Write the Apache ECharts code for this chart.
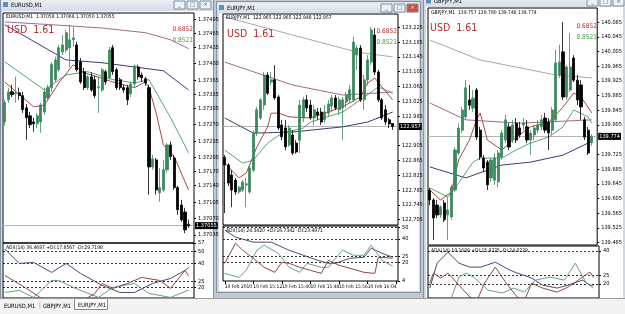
<!DOCTYPE html>
<html><head><meta charset="utf-8">
<script src="https://cdn.jsdelivr.net/npm/echarts@6/dist/echarts.min.js"></script>
<style>html,body{margin:0;padding:0;background:#c8ccd4;}#c{width:625px;height:314px;}</style>
</head><body><div id="c"></div>
<script>
// ---------------- DATA ----------------
// candles: [open, close, low, high]
const euCandles = [
[1.37276,1.37317,1.37268,1.37323],[1.37323,1.37340,1.37317,1.37349],[1.37340,1.37334,1.37329,1.37355],[1.37336,1.37338,1.37317,1.37372],
[1.37338,1.37332,1.37323,1.37349],[1.37332,1.37302,1.37295,1.37340],[1.37306,1.37285,1.37238,1.37314],[1.37289,1.37270,1.37263,1.37297],
[1.37276,1.37272,1.37255,1.37285],[1.37272,1.37289,1.37263,1.37295],[1.37276,1.37312,1.37253,1.37317],[1.37297,1.37340,1.37291,1.37349],
[1.37327,1.37349,1.37323,1.37355],[1.37349,1.37398,1.37340,1.37404],[1.37366,1.37408,1.37361,1.37415],[1.37387,1.37434,1.37383,1.37440],
[1.37425,1.37440,1.37419,1.37461],[1.37429,1.37466,1.37423,1.37472],[1.37434,1.37451,1.37393,1.37483],[1.37451,1.37455,1.37436,1.37478],
[1.37440,1.37387,1.37383,1.37447],[1.37404,1.37361,1.37357,1.37412],[1.37383,1.37349,1.37344,1.37391],[1.37349,1.37372,1.37344,1.37376],
[1.37372,1.37344,1.37340,1.37381],[1.37366,1.37332,1.37327,1.37374],[1.37349,1.37351,1.37295,1.37372],[1.37344,1.37387,1.37340,1.37391],
[1.37383,1.37361,1.37355,1.37387],[1.37370,1.37429,1.37366,1.37436],[1.37434,1.37383,1.37376,1.37440],[1.37387,1.37349,1.37344,1.37391],
[1.37366,1.37349,1.37344,1.37370],[1.37349,1.37344,1.37338,1.37355],[1.37349,1.37323,1.37312,1.37355],[1.37336,1.37357,1.37329,1.37361],
[1.37357,1.37395,1.37349,1.37398],[1.37393,1.37372,1.37366,1.37398],[1.37376,1.37370,1.37361,1.37381],[1.37368,1.37359,1.37353,1.37372],
[1.37349,1.37180,1.37121,1.37355],[1.37180,1.37197,1.37174,1.37206],[1.37195,1.37131,1.37121,1.37199],[1.37125,1.37136,1.37106,1.37178],
[1.37131,1.37174,1.37127,1.37195],[1.37174,1.37227,1.37168,1.37231],[1.37227,1.37202,1.37195,1.37234],[1.37199,1.37136,1.37131,1.37206],
[1.37136,1.37089,1.37078,1.37140],[1.37099,1.37067,1.37063,1.37110],[1.37084,1.37046,1.37039,1.37093],[1.37058,1.37055,1.37050,1.37068]
];
const euTicks = [1.37035,1.37070,1.37105,1.37140,1.37170,1.37200,1.37235,1.37270,1.37305,1.37335,1.37365,1.37400,1.37435,1.37465,1.37495];
const euMaMauve = [[0,1.37489],[13,1.37483],[27,1.37476],[39,1.37466],[46,1.37451],[51,1.37432]];
const euMaNavy  = [[0,1.37483],[17,1.37408],[27,1.37402],[36,1.37393],[44,1.37385],[51,1.37344]];
const euMaTeal  = [[0,1.37404],[11,1.37344],[17,1.37376],[23,1.37383],[30,1.37366],[36,1.37359],[40,1.37366],[46,1.37285],[51,1.37210]];
const euMaRed   = [[0,1.37361],[8,1.37308],[11,1.37312],[15,1.37359],[19,1.37398],[22,1.37381],[30,1.37361],[36,1.37349],[39,1.37361],[40,1.37349],[42,1.37295],[44,1.37227],[47,1.37202],[51,1.37131]];
const euAdx     = [[0,52],[4,40],[8,40.8],[13,32.5],[17,40],[21,31.7],[27,21.7],[32,15.8],[36,15.8],[41,23.3],[46,27.5],[50,34.2],[51,36.47]];
const euMinusDI = [[0,30],[6,19.2],[11,9.2],[16,6],[21,8],[25,15],[27,23.3],[30,19.2],[34,23.3],[38,28.3],[43,25.8],[46,19.2],[50,34.2],[51,29.72]];
const euPlusDI  = [[0,15.8],[4,17.5],[8,11.7],[13,25.8],[15,25.8],[19,20],[26,11.7],[30,20],[36,23.3],[40,15],[46,11.7],[51,17.86]];

const ejCandles = [
[122.874,122.853,122.723,122.880],[122.853,122.804,122.796,122.858],[122.826,122.785,122.739,122.839],[122.812,122.780,122.772,122.818],
[122.780,122.793,122.775,122.796],[122.785,122.807,122.780,122.812],[122.799,122.802,122.739,122.818],[122.780,122.845,122.775,122.853],
[122.839,122.939,122.834,122.947],[122.939,123.002,122.931,123.010],[122.980,123.029,122.975,123.034],[123.015,123.096,123.002,123.104],
[123.096,123.047,123.042,123.104],[123.077,123.083,123.069,123.104],[123.083,123.034,123.029,123.123],[123.037,122.953,122.947,123.042],
[122.961,122.929,122.920,122.975],[122.953,122.902,122.893,122.975],[122.907,122.953,122.902,122.961],[122.934,122.885,122.880,122.947],
[122.912,122.888,122.883,122.920],[122.920,123.015,122.885,123.029],[122.980,123.029,122.969,123.037],[123.029,123.007,122.996,123.042],
[123.015,122.980,122.975,123.029],[122.980,123.002,122.961,123.015],[122.996,122.988,122.975,123.007],[122.996,122.969,122.961,123.007],
[122.975,122.996,122.966,123.015],[122.993,123.018,122.983,123.029],[123.012,123.034,122.996,123.042],[123.034,123.007,123.002,123.042],
[123.002,123.029,122.988,123.037],[123.007,123.029,122.920,123.037],[123.023,123.042,123.007,123.050],[123.029,123.056,123.020,123.069],
[123.029,123.185,123.023,123.199],[123.150,123.169,123.110,123.177],[123.169,123.029,123.023,123.177],[123.029,123.083,123.002,123.096],
[123.083,123.137,123.069,123.150],[123.131,123.218,123.123,123.226],[123.204,123.104,123.096,123.223],[123.104,123.029,123.023,123.110],
[123.029,122.980,122.975,123.034],[123.002,122.969,122.961,123.015],[122.975,122.964,122.953,122.980],[122.965,122.957,122.948,122.965]
];
const ejTicks = [122.705,122.745,122.785,122.825,122.865,122.905,122.985,123.025,123.065,123.105,123.145,123.185,123.225];
const ejTimes = ['10 Feb 2010','10 Feb 15:12','10 Feb 15:40','10 Feb 15:48','10 Feb 15:56','10 Feb 16:04'];
const ejMaGray  = [[0,123.253],[37,123.158],[47,123.145]];
const ejMaMauve = [[0,123.131],[19,123.069],[33,123.042],[47,123.050]];
const ejMaNavy  = [[0,122.980],[8,122.939],[19,122.942],[33,122.956],[40,122.969],[45,122.988],[47,122.996]];
const ejMaTeal  = [[0,122.893],[5,122.858],[8,122.866],[12,122.912],[16,122.939],[22,122.953],[24,122.969],[33,122.996],[38,123.029],[43,123.064],[47,123.047]];
const ejMaRed   = [[0,122.858],[4,122.818],[6,122.831],[9,122.902],[12,122.956],[13,122.993],[15,122.993],[18,122.983],[24,122.980],[33,123.010],[38,123.037],[40,123.074],[42,123.088],[44,123.064],[47,123.029]];
const ejAdx     = [[0,47.5],[3,41.5],[8,37.2],[13,37.2],[18,30.3],[22,26],[26,21.7],[29,19.1],[31,19.1],[35,23.4],[39,24.3],[41,32],[44,27.7],[47,24.34]];
const ejMinusDI = [[0,19.1],[3,36.3],[5,30.3],[8,23.4],[11,15.7],[14,11.4],[16,20],[18,19.1],[21,15.7],[24,13.1],[27,10.5],[29,21.7],[32,17.4],[35,14.9],[39,11.4],[42,10.5],[43,24.3],[47,23.5]];
const ejPlusDI  = [[0,10.5],[4,7.1],[6,13.1],[9,30.3],[11,34.6],[15,27.7],[18,15.7],[21,11.4],[23,19.1],[27,15.7],[29,15.7],[31,23.4],[33,30.3],[36,26],[39,26],[41,34.6],[44,21.7],[47,16.7]];

const gjCandles = [
[139.628,139.601,139.587,139.634],[139.601,139.552,139.492,139.606],[139.587,139.560,139.552,139.601],[139.560,139.582,139.552,139.587],
[139.593,139.547,139.541,139.601],[139.560,139.574,139.492,139.609],[139.555,139.636,139.547,139.642],[139.628,139.737,139.623,139.745],
[139.729,139.797,139.723,139.810],[139.791,139.846,139.783,139.854],[139.827,139.906,139.819,139.927],[139.873,139.859,139.846,139.914],
[139.851,139.878,139.840,139.900],[139.900,139.772,139.764,139.906],[139.791,139.718,139.710,139.800],[139.715,139.688,139.677,139.723],
[139.704,139.642,139.628,139.710],[139.661,139.710,139.650,139.715],[139.655,139.715,139.642,139.729],[139.650,139.729,139.636,139.737],
[139.718,139.783,139.710,139.791],[139.764,139.819,139.756,139.832],[139.800,139.745,139.737,139.810],[139.764,139.805,139.756,139.819],
[139.810,139.764,139.756,139.824],[139.797,139.778,139.770,139.813],[139.805,139.810,139.791,139.824],[139.800,139.764,139.756,139.819],
[139.764,139.783,139.723,139.791],[139.778,139.797,139.764,139.805],[139.791,139.805,139.783,139.819],[139.800,139.819,139.791,139.832],
[139.824,139.791,139.783,139.838],[139.813,139.783,139.737,139.824],[139.791,139.846,139.778,139.854],[139.819,139.974,139.813,140.009],
[139.941,139.976,139.933,140.023],[140.004,139.881,139.873,140.085],[139.881,139.963,139.873,139.968],[139.900,139.963,139.895,140.055],
[139.987,139.927,139.922,139.995],[139.927,139.873,139.859,139.941],[139.914,139.854,139.819,139.927],[139.819,139.772,139.764,139.827],
[139.791,139.729,139.723,139.800],[139.757,139.774,139.748,139.780]
];
const gjTicks = [139.485,139.525,139.565,139.605,139.645,139.685,139.725,139.805,139.845,139.885,139.925,139.965,140.005,140.045,140.085];
const gjMaGray  = [[0,140.036],[14,139.982],[35,139.941],[45,139.933]];
const gjMaMauve = [[0,139.865],[10,139.819],[25,139.810],[45,139.819]];
const gjMaNavy  = [[0,139.691],[10,139.661],[20,139.696],[28,139.704],[37,139.723],[44,139.756],[45,139.759]];
const gjMaTeal  = [[0,139.634],[5,139.609],[8,139.647],[12,139.704],[14,139.715],[20,139.715],[24,139.737],[28,139.756],[33,139.772],[37,139.800],[40,139.846],[44,139.827],[45,139.810]];
const gjMaRed   = [[0,139.628],[3,139.601],[6,139.623],[8,139.710],[11,139.764],[13,139.819],[14,139.838],[16,139.764],[20,139.737],[24,139.772],[28,139.800],[33,139.813],[35,139.832],[37,139.854],[40,139.892],[42,139.881],[45,139.838]];
const gjAdx     = [[0,17.5],[2,32.6],[5,39.2],[8,32.6],[11,30.2],[14,30.2],[18,33.2],[22,28.4],[24,26.6],[28,23.6],[31,19.3],[35,17.5],[38,19.3],[42,22.3],[44,19.3],[45,19.2]];
const gjMinusDI = [[0,20.5],[1,26.6],[3,23.6],[5,26.6],[8,19.3],[11,12.1],[13,10],[15,20.5],[18,30.2],[21,20.5],[24,12.1],[26,10],[28,20.5],[31,17.5],[35,15.1],[38,18.1],[42,24.2],[44,27.2],[45,24.0]];
const gjPlusDI  = [[0,9],[4,8],[6,12.1],[8,24.2],[10,26.6],[12,24.2],[16,16.3],[20,14.5],[23,17.5],[26,15.1],[29,22.3],[33,24.2],[37,22.3],[40,32.6],[43,20.5],[45,17.5]];

// ---------------- CHART ----------------
const FONT = "'Liberation Sans Narrow','DejaVu Sans Condensed','Liberation Sans',sans-serif";
const C = {bull:'#3b8a5e', bear:'#000000', mauve:'#a26a90', navy:'#3c3c7a', teal:'#5e9e84', red:'#a84a42', gray:'#a8a8a8',
           adx:'#4a4a7c', plus:'#6a9e8a', minus:'#8c4a42'};

const panels = [
 {candles:euCandles, n:53, left:3, width:191, top:13, height:230, ymin:1.37018, ymax:1.37508, ticks:euTicks, dec:5, last:1.37055,
  mas:[[euMaMauve,C.mauve],[euMaNavy,C.navy],[euMaTeal,C.teal],[euMaRed,C.red]],
  adxTop:243, adxHeight:55, adxMin:11.2, adxMax:57, adxTicks:[57,50,40,25,20], adxLevels:[50,40,25,20],
  adx:euAdx, plus:euPlusDI, minus:euMinusDI, times:null},
 {candles:ejCandles, n:49, left:223, width:175, top:14, height:211, ymin:122.6907, ymax:123.2610, ticks:ejTicks, dec:3, last:122.957,
  mas:[[ejMaGray,C.gray],[ejMaMauve,C.mauve],[ejMaNavy,C.navy],[ejMaTeal,C.teal],[ejMaRed,C.red]],
  adxTop:226, adxHeight:55, adxMin:4, adxMax:51, adxTicks:[50,40,25,20,4], adxLevels:[50,40,25,20],
  adx:ejAdx, plus:ejPlusDI, minus:ejMinusDI, times:ejTimes},
 {candles:gjCandles, n:47, left:428, width:171, top:8, height:237, ymin:139.4785, ymax:140.1233, ticks:gjTicks, dec:3, last:139.774,
  mas:[[gjMaGray,C.gray],[gjMaMauve,C.mauve],[gjMaNavy,C.navy],[gjMaTeal,C.teal],[gjMaRed,C.red]],
  adxTop:246, adxHeight:52, adxMin:11.5, adxMax:43, adxTicks:[40,25,20], adxLevels:[40,25,20],
  adx:gjAdx, plus:gjPlusDI, minus:gjMinusDI, times:null}
];

const grids=[], xAxes=[], yAxes=[], series=[];
const lblStyle = {fontFamily:FONT, fontSize:5.6, color:'#000'};

panels.forEach(p=>{
  const gi = grids.length;
  grids.push({left:p.left, top:p.top, width:p.width, height:p.height, show:true, borderColor:'#000', borderWidth:1, backgroundColor:'transparent', z:5});
  grids.push({left:p.left, top:p.adxTop, width:p.width, height:p.adxHeight, show:true, borderColor:'#000', borderWidth:1, backgroundColor:'transparent', z:5});
  const cats = Array.from({length:p.n},(_,i)=>'b'+i);
  xAxes.push({type:'category', gridIndex:gi, data:cats, boundaryGap:true, show:false, z:6});
  xAxes.push({type:'category', gridIndex:gi+1, data:cats, boundaryGap:true, show:!!p.times, z:6,
    axisLine:{show:false},
    axisTick:{show:!!p.times, interval:7, alignWithLabel:true, length:3, lineStyle:{color:'#000'}},
    axisLabel:{show:!!p.times, interval:7, align:'left', margin:3, showMinLabel:true, hideOverlap:false,
      fontFamily:FONT, fontSize:4.9, color:'#000',
      formatter:(v,i)=> (p.times && i%8===0 && p.times[i/8]) ? p.times[i/8] : ''}});
  yAxes.push({type:'value', gridIndex:gi, position:'right', min:p.ymin, max:p.ymax, scale:true, z:6,
    splitLine:{show:false}, axisLine:{show:false},
    axisTick:{show:true, length:2, customValues:p.ticks, lineStyle:{color:'#000'}},
    axisLabel:{customValues:p.ticks, margin:4, ...lblStyle, formatter:v=>v.toFixed(p.dec)}});
  yAxes.push({type:'value', gridIndex:gi+1, position:'right', min:p.adxMin, max:p.adxMax, z:6,
    splitLine:{show:false}, axisLine:{show:false},
    axisTick:{show:true, length:2, customValues:p.adxTicks, lineStyle:{color:'#000'}},
    axisLabel:{customValues:p.adxTicks, margin:4, ...lblStyle, formatter:v=>String(v)}});
  const xi = xAxes.length-2, yi = yAxes.length-2;
  p.mas.forEach(([d,col])=>{
    series.push({type:'line', xAxisIndex:xi, yAxisIndex:yi, data:d, symbol:'none', silent:true, z:8,
      lineStyle:{color:col, width:1}});
  });
  series.push({type:'candlestick', xAxisIndex:xi, yAxisIndex:yi, data:p.candles, barWidth:2.6, silent:true, z:10,
    itemStyle:{color:C.bull, color0:C.bear, borderColor:C.bull, borderColor0:C.bear, borderWidth:0.8},
    markLine:{silent:true, symbol:'none', animation:false, precision:p.dec,
      lineStyle:{color:'#b4b4b4', width:1, type:'solid'},
      label:{position:'end', distance:1, formatter:p.last.toFixed(p.dec), backgroundColor:'#000', color:'#fff',
        fontFamily:FONT, fontSize:5.6, padding:[1,1,0,1]},
      data:[{yAxis:p.last}]}});
  series.push({type:'line', xAxisIndex:xi+1, yAxisIndex:yi+1, data:p.adx, symbol:'none', silent:true, z:8,
    lineStyle:{color:C.adx, width:1},
    markLine:{silent:true, symbol:'none', animation:false, label:{show:false},
      lineStyle:{color:'#000', width:0.8, type:[2,2]}, data:p.adxLevels.map(v=>({yAxis:v}))}});
  series.push({type:'line', xAxisIndex:xi+1, yAxisIndex:yi+1, data:p.plus, symbol:'none', silent:true, z:8,
    lineStyle:{color:C.plus, width:1}});
  series.push({type:'line', xAxisIndex:xi+1, yAxisIndex:yi+1, data:p.minus, symbol:'none', silent:true, z:8,
    lineStyle:{color:C.minus, width:1}});
});

// ---------- window chrome & texts ----------
const g = [];
const T = (x,y,text,o={}) => g.push({type:'text', x, y, z:o.z||60, silent:true,
   style:{text, fill:o.fill||'#000', fontFamily:o.font||FONT, fontSize:o.size||5.6, fontWeight:o.weight||'normal',
   align:o.align||'left', verticalAlign:o.va||'top'}});
const R = (x,y,w,h,fill,stroke,z) => g.push({type:'rect', z:z||0, silent:true, shape:{x,y,width:w,height:h},
   style:{fill, stroke:stroke||null, lineWidth:stroke?1:0}});
const grad = {type:'linear', x:0, y:0, x2:0, y2:1, colorStops:[{offset:0,color:'#edf1f6'},{offset:1,color:'#d5dde8'}]};

function windowChrome(x,y,w,h,titleH,title,active){
  R(x+0.5,y+0.5,w-1,h-1,'#cfd8e3','#8494a8',0);
  R(x+1.5,y+1.5,w-3,titleH,grad,null,1);
  R(x+3,y+titleH/2-1.5,5,5,'#5d8fc4',null,2);
  T(x+11,y+1.5+titleH/2,title,{size:5.8,va:'middle',z:3});
  const bw=11, bh=titleH-3, by=y+3;
  [[w-40,'_'],[w-27,'□'],[w-14,'×']].forEach(([bx,s],k)=>{
    const close = k===2;
    R(x+bx,by,bw,bh,(close&&active)?'#c8503e':'#eef2f6','#7e8ea2',2);
    T(x+bx+bw/2,by+bh/2,s,{size:5.5,align:'center',va:'middle',fill:(close&&active)?'#fff':'#333',z:3});
  });
}
R(0,0,625,314,'#c3c8d0',null,0);
windowChrome(0,-2,214,301,11,'EURUSD,M1',false);
R(2,11,211,288,'#ffffff',null,1);
windowChrome(216,1,205,292,11,'EURJPY,M1',true);
R(219,13,200,278,'#ffffff',null,1);
windowChrome(423,-6,204,305,12,'GBPJPY,M1',false);
R(426,7,197,291,'#ffffff',null,1);

// chart texts
T(6,14.5,'EURUSD,M1  1.37058 1.37068 1.37050 1.37055',{size:5});
T(7,25,'USD  1.61',{size:10.5,fill:'#c0282a'});
T(193,25.5,'0.6852',{size:6.5,fill:'#c0282a',align:'right'});
T(193,36.5,'0.8521',{size:6.5,fill:'#3c9a3c',align:'right'});
T(6,245,'ADX(14) 36.4697 +DI:17.8567 -DI:29.7198',{size:5});

T(226,15.5,'EURJPY,M1  122.965 122.965 122.948 122.957',{size:5});
T(227,28.5,'USD  1.61',{size:10.5,fill:'#c0282a'});
T(397,28,'0.6852',{size:6.5,fill:'#c0282a',align:'right'});
T(397,39,'0.8521',{size:6.5,fill:'#3c9a3c',align:'right'});
T(226,228,'ADX(14) 24.3420 +DI:16.7342 -DI:23.4971',{size:5});

T(431,10.5,'GBPJPY,M1  139.757 139.780 139.748 139.774',{size:5});
T(430,23,'USD  1.61',{size:10.5,fill:'#c0282a'});
T(597,22.5,'0.6852',{size:6.5,fill:'#c0282a',align:'right'});
T(597,33.5,'0.8521',{size:6.5,fill:'#3c9a3c',align:'right'});
T(431,248.5,'ADX(14) 19.1689 +DI:15.9225 -DI:24.0229',{size:5});

// tab bar
R(0,298,625,16,'#f3f3f3',null,50);
g.push({type:'line', z:51, silent:true, shape:{x1:0,y1:298.5,x2:625,y2:298.5}, style:{stroke:'#9a9a9a',lineWidth:1}});
T(4,303,'EURUSD,M1',{size:5.8,z:52});
T(39,302.5,'|',{size:6,z:52,fill:'#888'});
T(43,303,'GBPJPY,M1',{size:5.8,z:52});
R(74.5,298.5,33,11,'#ffffff','#8a8a8a',51);
T(78,302.5,'EURJPY,M1',{size:5.8,z:52});

const chart = echarts.init(document.getElementById('c'), null, {renderer:'canvas', width:625, height:314});
chart.setOption({animation:false, grid:grids, xAxis:xAxes, yAxis:yAxes, series, graphic:{elements:g}});
</script></body></html>
